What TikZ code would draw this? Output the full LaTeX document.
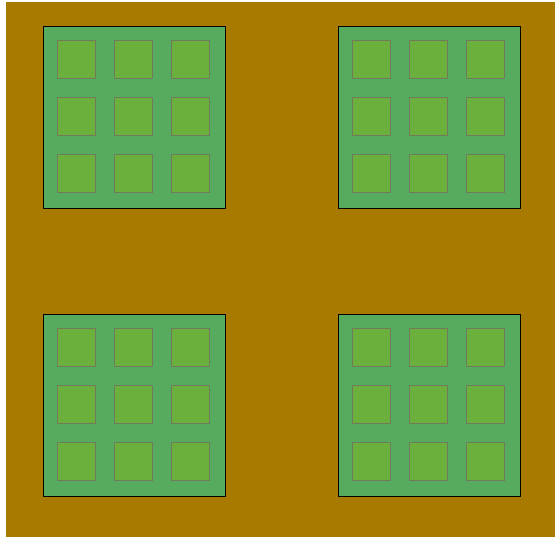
\documentclass[tikz,border=0pt]{standalone}
\definecolor{soil}{RGB}{168,122,0}
\definecolor{plot}{RGB}{86,171,94}
\definecolor{cell}{RGB}{107,176,61}
\definecolor{cellline}{RGB}{112,122,92}
\tikzset{
  blockbox/.style={draw=black, fill=plot, line width=0.8pt},
  cellbox/.style={draw=cellline, fill=cell, line width=0.9pt},
}
\begin{document}
\begin{tikzpicture}[x=1pt,y=-1pt]
\useasboundingbox (0,0) rectangle (555,537);
\fill[white] (0,0) rectangle (555,537);
\fill[soil] (6,2) rectangle (555,537);
\foreach \bx/\by in {43/26, 338/26, 43/314, 338/314} {
  \draw[blockbox] (\bx,\by) rectangle ++(182,182);
  \foreach \i in {0,1,2} {
    \foreach \j in {0,1,2} {
      \draw[cellbox] ({\bx+14+57*\i},{\by+14+57*\j}) rectangle ++(38,38);
    }
  }
}
\end{tikzpicture}
\end{document}
